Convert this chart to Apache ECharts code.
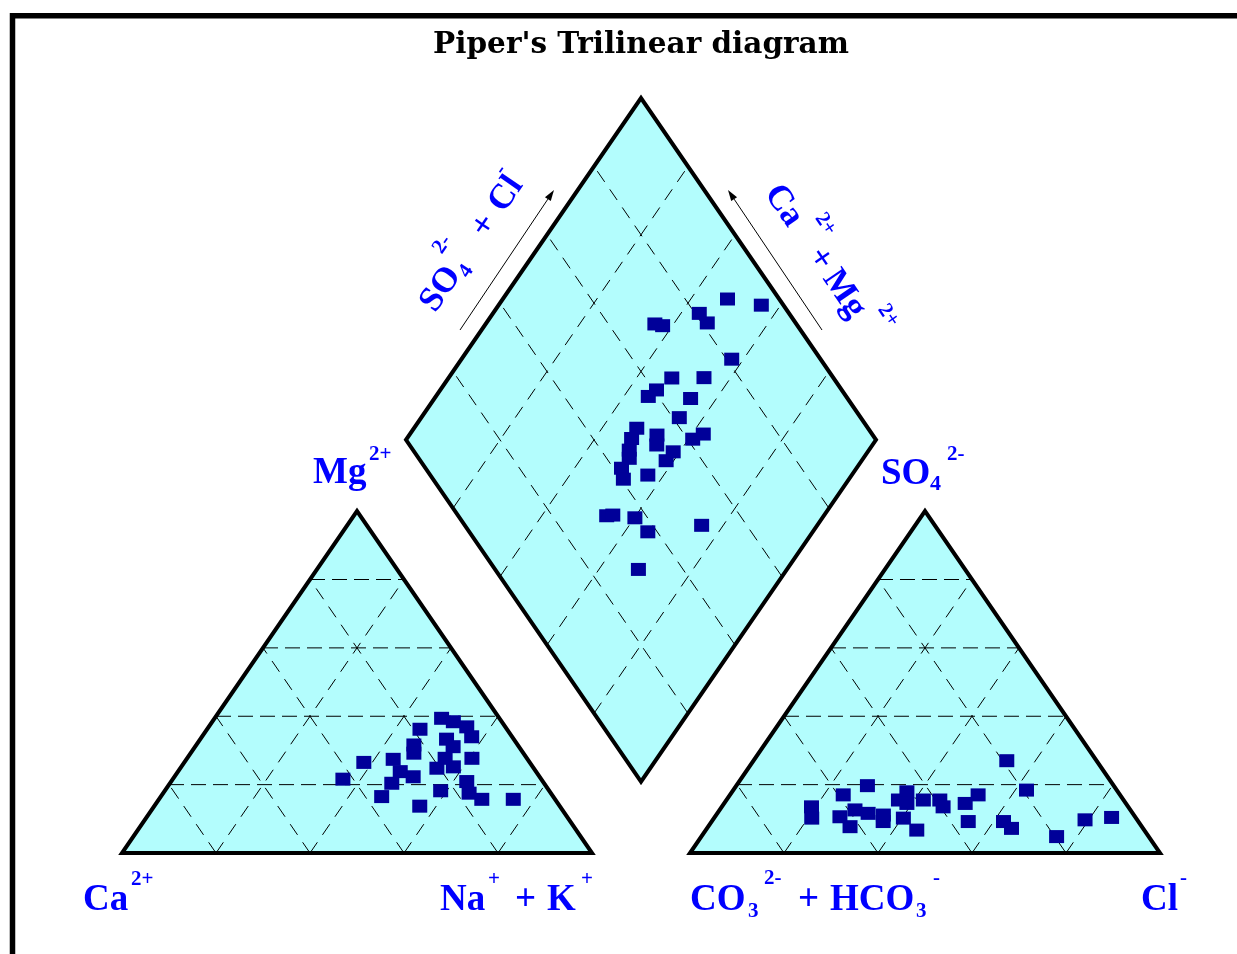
<!DOCTYPE html>
<html><head><meta charset="utf-8">
<script src="https://cdn.jsdelivr.net/npm/echarts@6/dist/echarts.min.js"></script>
<style>html,body{margin:0;padding:0;background:#fff}#c{width:1237px;height:954px}</style>
</head><body><div id="c"></div>
<script>
// ---- data -------------------------------------------------------------
// gap between the two triangles, in % of a triangle side
const GAP = 20.85;
// grid ticks (%)
const TICKS = [20, 40, 60, 80];
// cation triangle: [Ca2+, Mg2+, Na+ + K+] in % meq
const cations = [
  [12.3, 39.4, 48.3], [10.3, 38.4, 51.3], [8.2, 36.9, 54.9], [8.6, 34.0, 57.4],
  [18.5, 36.2, 45.3], [14.3, 33.3, 52.4], [14.0, 31.1, 54.9], [22.1, 31.6, 46.3],
  [23.3, 29.2, 47.5], [17.4, 27.7, 54.9], [11.7, 27.7, 60.6], [28.6, 27.4, 44.0],
  [35.3, 26.5, 38.2], [20.6, 24.8, 54.6], [16.9, 25.2, 57.9], [28.9, 23.8, 47.3],
  [26.9, 22.3, 50.8], [42.2, 21.6, 36.2], [32.4, 20.4, 47.2], [16.2, 20.9, 62.9],
  [23.1, 18.2, 58.7], [17.4, 17.5, 65.1], [36.5, 16.5, 47.0], [15.6, 15.7, 68.7],
  [8.9, 15.7, 75.4], [29.8, 13.7, 56.5]
];
// anion triangle: [CO3 2- + HCO3-, SO4 2-, Cl-] in % meq
const anions = [
  [67.4, 13.5, 19.1], [69.0, 10.2, 20.8], [58.9, 17.0, 24.1], [52.4, 19.7, 27.9],
  [62.8, 10.6, 26.6], [62.1, 7.7, 30.2], [58.6, 12.6, 28.8], [56.3, 11.6, 32.1],
  [53.3, 11.1, 35.6], [54.3, 9.2, 36.5], [47.9, 15.5, 36.6], [44.9, 17.9, 37.2],
  [46.6, 14.5, 38.9], [49.5, 10.2, 40.3], [48.4, 6.7, 44.9], [42.6, 15.5, 41.9],
  [39.1, 15.5, 45.4], [39.4, 13.5, 47.1], [34.2, 14.5, 51.3], [36.2, 9.2, 54.6],
  [30.2, 17.0, 52.8], [19.1, 27.0, 53.9], [19.2, 18.4, 62.4], [28.7, 9.2, 62.1],
  [28.0, 7.2, 64.8], [19.6, 4.8, 75.6], [11.1, 9.7, 79.2], [5.1, 10.4, 84.5]
];
// diamond: [Ca2+ + Mg2+, SO4 2- + Cl-] in %
const diamondPts = [
  [52.2, 89.0], [44.1, 95.3], [56.1, 80.9], [53.0, 81.2], [64.0, 69.9], [62.1, 71.3],
  [42.5, 81.1], [52.5, 65.6], [45.7, 72.5], [54.0, 60.6], [54.8, 57.9], [45.5, 66.6],
  [45.1, 61.4], [52.6, 50.8], [52.2, 48.2], [51.0, 46.0], [49.8, 44.8], [47.3, 54.1],
  [45.9, 52.6], [37.6, 64.1], [39.1, 61.1], [41.4, 55.1], [41.6, 52.3], [50.0, 41.7],
  [48.0, 40.5], [43.4, 46.3], [46.2, 31.6], [45.0, 33.0], [39.9, 37.3], [35.1, 38.0],
  [24.6, 50.4], [31.6, 30.5]
];

// ---- geometry (triangle side = 100 in x, triangle height = 100 in y) --
const RX = 100 + GAP;               // left corner of anion triangle
const BX = 100 + GAP / 2;           // diamond bottom x
function catXY(c) { return [c[2] + c[1] / 2, c[1]]; }
function anXY(a) { return [RX + a[2] + a[1] / 2, a[1]]; }
function diaXY(d) { return [BX + (d[1] - d[0]) / 2, GAP + d[0] + d[1]]; }

const shapes = [
  [[0, 0], [100, 0], [50, 100]],
  [[RX, 0], [RX + 100, 0], [RX + 50, 100]],
  [[BX, GAP], [BX - 50, GAP + 100], [BX, GAP + 200], [BX + 50, GAP + 100]]
];

const gridLines = [];
TICKS.forEach(function (t) {
  [0, RX].forEach(function (o) {
    gridLines.push([o + t / 2, t, o + 100 - t / 2, t, 0]);              // horizontal
    gridLines.push([o + t, 0, o + t + (100 - t) / 2, 100 - t, 1]);       // right-leaning
    gridLines.push([o + 100 - t, 0, o + (100 - t) / 2, 100 - t, 1]);     // left-leaning
  });
  var p1 = diaXY([t, 0]), p2 = diaXY([t, 100]);
  gridLines.push([p1[0], p1[1], p2[0], p2[1], 1]);
  var q1 = diaXY([0, t]), q2 = diaXY([100, t]);
  gridLines.push([q1[0], q1[1], q2[0], q2[1], 1]);
});

const XMAX = 200 + GAP, YMAX = 200 + GAP;
const FILL = '#b3fdfd', MARK = '#000099', BLUE = '#0000ff';

function polyRender(fill, stroke) {
  return function (params, api) {
    var s = shapes[api.value(2)];
    return {
      type: 'polygon',
      shape: { points: s.map(function (p) { return api.coord(p); }) },
      style: { fill: fill, stroke: stroke, lineWidth: stroke === 'none' ? 0 : 4, lineJoin: 'miter' }
    };
  };
}

const chart = echarts.init(document.getElementById('c'), null, { renderer: 'canvas' });

// ---- text helpers -------------------------------------------------------
const SERIF = '"Liberation Serif","Times New Roman",serif';
function T(text, x, base, size) {
  return {
    type: 'text', x: x, y: base - 0.34 * size, silent: true,
    style: { text: text, font: 'bold ' + size + 'px ' + SERIF, fill: BLUE, align: 'left', verticalAlign: 'middle' }
  };
}
function arrow(x1, y1, x2, y2) {
  var dx = x2 - x1, dy = y2 - y1, L = Math.sqrt(dx * dx + dy * dy);
  var ux = dx / L, uy = dy / L, hl = 11, hw = 3.5;
  var bx = x2 - ux * hl, by = y2 - uy * hl;
  return [
    { type: 'line', silent: true, shape: { x1: x1, y1: y1, x2: bx, y2: by }, style: { stroke: '#000', lineWidth: 1 } },
    { type: 'polygon', silent: true, shape: { points: [[x2, y2], [bx - uy * hw, by + ux * hw], [bx + uy * hw, by - ux * hw]] }, style: { fill: '#000' } }
  ];
}
const ROT = Math.atan2(100 * 3.4186, 50 * 4.7);

const graphics = [
  { type: 'rect', silent: true, shape: { x: 12.5, y: 15.8, width: 1400, height: 1200 }, style: { fill: 'none', stroke: '#000', lineWidth: 5.5 } },
  { type: 'text', silent: true, x: 641, y: 45.5, style: { text: "Piper's Trilinear diagram", font: 'bold 29.5px "DejaVu Serif",serif', fill: '#000', align: 'center', verticalAlign: 'middle' } },
  // cation corners
  T('Ca', 83, 913, 37), T('2+', 131, 887, 21),
  T('Na', 440, 913, 37), T('+', 488, 887, 21), T('+', 515, 913, 37), T('K', 547, 913, 37), T('+', 581, 887, 21),
  T('Mg', 313, 486, 37), T('2+', 369, 462, 21),
  // anion corners
  T('CO', 690, 913, 37), T('3', 748, 919, 21), T('2-', 764, 886, 21), T('+', 798, 913, 37),
  T('HCO', 830, 913, 37), T('3', 916, 919, 21), T('-', 933, 886, 21),
  T('Cl', 1141, 913, 37), T('-', 1180, 886, 21),
  T('SO', 881, 487, 37), T('4', 930, 492, 22), T('2-', 947, 462, 21),
  // rotated diamond labels
  {
    type: 'group', x: 437.6, y: 315.1, rotation: ROT, silent: true,
    children: [
      T('SO', 0, 0, 35), T('4', 47, 6, 21), T('2-', 52, -29, 21),
      T('+', 90, 0, 35), T('Cl', 121, 0, 35), T('-', 152, -23, 21)
    ]
  },
  {
    type: 'group', x: 761.6, y: 194.9, rotation: -ROT, silent: true,
    children: [
      T('Ca', 0, 0, 35), T('2+', 49, -29, 21),
      T('+', 76, 0, 35), T('Mg', 103, 0, 35), T('2+', 160, -29, 21)
    ]
  }
].concat(arrow(460, 330, 554, 190)).concat(arrow(822, 330, 728, 190));

chart.setOption({
  animation: false,
  backgroundColor: '#ffffff',
  grid: { left: 122, right: 77, top: 98, bottom: 101 },
  xAxis: { type: 'value', min: 0, max: XMAX, show: false },
  yAxis: { type: 'value', min: 0, max: YMAX, show: false },
  graphic: graphics,
  series: [
    { type: 'custom', z: 1, silent: true, renderItem: polyRender(FILL, 'none'),
      data: shapes.map(function (s, i) { return [s[0][0], s[0][1], i]; }) },
    { type: 'custom', z: 2, silent: true,
      renderItem: function (params, api) {
        var a = api.coord([api.value(0), api.value(1)]), b = api.coord([api.value(2), api.value(3)]);
        var kind = api.value(4);
        return { type: 'line', shape: { x1: a[0], y1: a[1], x2: b[0], y2: b[1] },
          style: { stroke: '#000', lineWidth: 1, lineDash: kind === 0 ? [15, 7] : [13, 9] } };
      },
      data: gridLines },
    { type: 'custom', z: 3, silent: true, renderItem: polyRender('none', '#000'),
      data: shapes.map(function (s, i) { return [s[0][0], s[0][1], i]; }) },
    { type: 'scatter', z: 4, symbol: 'rect', symbolSize: [15, 13], itemStyle: { color: MARK, opacity: 1 }, data: cations.map(catXY) },
    { type: 'scatter', z: 4, symbol: 'rect', symbolSize: [15, 13], itemStyle: { color: MARK, opacity: 1 }, data: anions.map(anXY) },
    { type: 'scatter', z: 4, symbol: 'rect', symbolSize: [15, 13], itemStyle: { color: MARK, opacity: 1 }, data: diamondPts.map(diaXY) }
  ]
});
</script></body></html>
